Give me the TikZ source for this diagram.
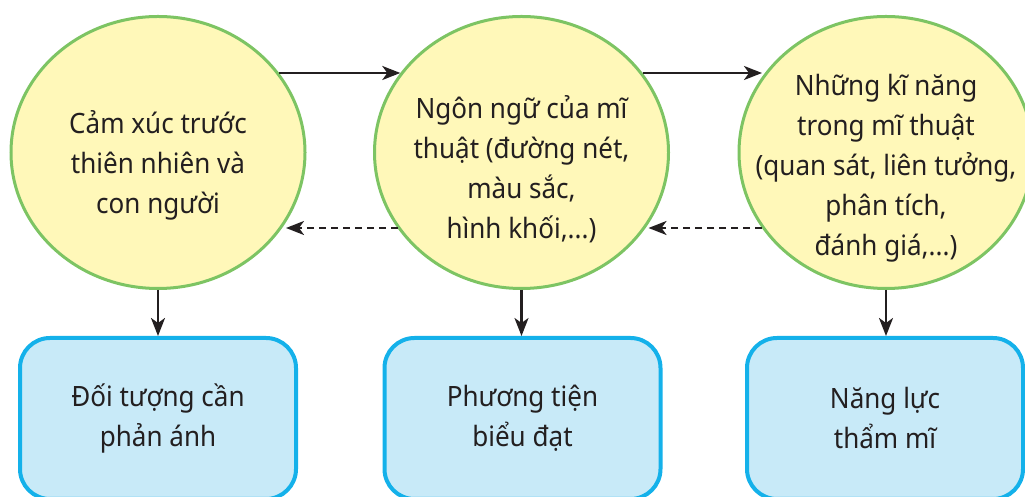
\documentclass[tikz,border=0pt]{standalone}
\usepackage{fontspec}
\setmainfont[FakeStretch=0.93]{Noto Sans}
\usetikzlibrary{arrows.meta,shapes.geometric,calc}
\definecolor{cfill}{HTML}{FFF8B9}
\definecolor{cline}{HTML}{7DC463}
\definecolor{bfill}{HTML}{C8EAF8}
\definecolor{bline}{HTML}{14B1EA}
\definecolor{ink}{HTML}{231F20}
\begin{document}
\begin{tikzpicture}[x=1pt,y=1pt,
  bubble/.style={ellipse, draw=cline, fill=cfill, line width=3pt, minimum width=294pt, minimum height=272pt, inner sep=0pt},
  card/.style={rectangle, rounded corners=30pt, draw=bline, fill=bfill, line width=4pt, minimum width=276pt, minimum height=161pt, inner sep=0pt},
  txt/.style={text=ink, align=center, font=\fontsize{28}{40}\selectfont, inner sep=0pt},
  link/.style={draw=ink, line width=2.5pt, -{Stealth[length=18pt,width=14pt,inset=5pt]}},
  back/.style={link, dash pattern=on 7pt off 5pt}]
\useasboundingbox (0,0) rectangle (1025,497);
\clip (0,0) rectangle (1025,497);
% circles
\node[bubble] (L) at (158,344.5) {};
\node[bubble] (M) at (521.5,344.5) {};
\node[bubble] (R) at (886,344.5) {};
\node[txt] (Lt) at (158,332) {Cảm xúc trước\\thiên nhiên và\\con người};
\node[txt] (Mt) at (521.5,328) {Ngôn ngữ của mĩ\\thuật (đường nét,\\màu sắc,\\hình khối,...)};
\node[txt] (Rt) at (886,329) {Những kĩ năng\\trong mĩ thuật\\(quan sát, liên tưởng,\\phân tích,\\đánh giá,...)};
% boxes
\node[card] (A) at (158,78.5) {};
\node[card] (B) at (522.5,78.5) {};
\node[card] (C) at (885,78.5) {};
\node[txt] (At) at (158,79) {Đối tượng cần\\phản ánh};
\node[txt] (Bt) at (522.5,79) {Phương tiện\\biểu đạt};
\node[txt] (Ct) at (885,79) {Năng lực\\thẩm mĩ};
% connectors
\draw[link] ($(L.center)+(121.2,79.5)$) -- ($(M.center)+(-121.2,79.5)$);
\draw[link] ($(M.center)+(121.2,79.5)$) -- ($(R.center)+(-124,79.5)$);
\draw[back] ($(M.center)+(-124,-75.5)$) -- ($(L.center)+(128,-75.5)$);
\draw[back] ($(R.center)+(-124,-75.5)$) -- ($(M.center)+(127,-75.5)$);
\draw[link] (L.south) -- (L.south |- A.north);
\draw[link] (M.south) -- (M.south |- B.north);
\draw[link] (R.south) -- (R.south |- C.north);
\end{tikzpicture}
\end{document}
